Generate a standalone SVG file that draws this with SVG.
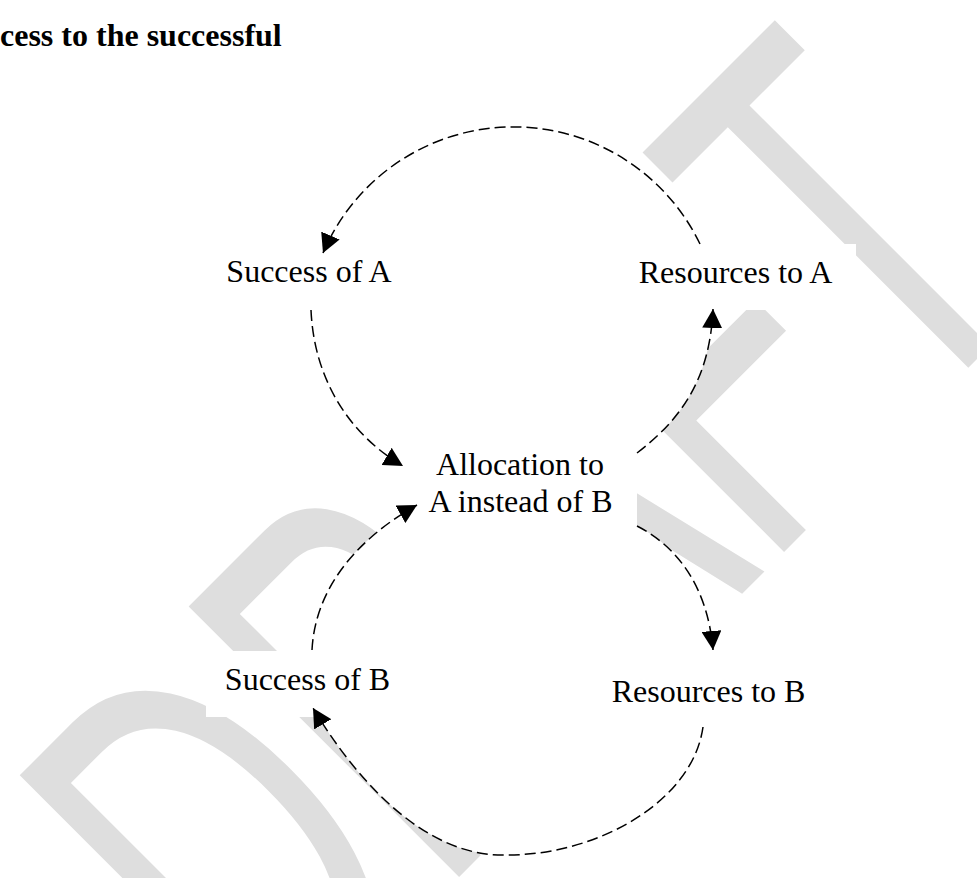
<svg xmlns="http://www.w3.org/2000/svg" width="977" height="878" viewBox="0 0 977 878">
  <style>
    .wm { font-family: "Liberation Sans", Arial, sans-serif; font-size: 556px; fill: #dedede; }
    .title { font-family: "Liberation Serif", "Times New Roman", serif; font-size: 32px; font-weight: bold; fill: #000; }
    .lbl { font-family: "Liberation Serif", "Times New Roman", serif; font-size: 32px; fill: #000; text-anchor: middle; }
    .box { fill: #fff; stroke: none; }
    .fillw { fill: #fff; stroke: none; }
    .con { fill: none; stroke: #000; stroke-width: 1.5; stroke-dasharray: 11 5; marker-end: url(#arr); }
  </style>
  <defs>
    <marker id="arr" viewBox="0 0 20 20" refX="19" refY="10" markerWidth="20" markerHeight="20" markerUnits="userSpaceOnUse" orient="auto">
      <path d="M0,0 L19,10 L0,20 z" fill="#000"/>
    </marker>
  </defs>
  <rect x="0" y="0" width="977" height="878" fill="#fff"/>
  <g id="watermark">
    <text class="wm" transform="translate(271,1065) rotate(-45) scale(0.595,1)" x="0" y="0">DRAFT</text>
  </g>
  <g id="loop-fills">
    <path class="fillw" d="M700,244 A207,207 0 0 0 323,253 L311,310 C314,380 350,435 403,466 L637,453 C680,420 710,380 713,309 Z"/>
    <path class="fillw" d="M637,526 C680,548 708,590 713,650 L703,727 C693,800 600,855 507,855 C420,858 350,770 313,708 L312,650 C315,590 355,540 417,505 Z"/>
  </g>
  <g id="title">
    <text class="title" x="0" y="46">cess to the successful</text>
  </g>
  <g id="node-success-a">
    <rect class="box" x="207" y="243" width="204" height="66"/>
    <text class="lbl" x="309" y="282">Success of A</text>
  </g>
  <g id="node-resources-a">
    <rect class="box" x="615" y="244" width="241" height="66"/>
    <text class="lbl" x="735.5" y="283">Resources to A</text>
  </g>
  <g id="node-allocation">
    <rect class="box" x="403" y="440" width="234" height="100"/>
    <text class="lbl" x="520" y="475">Allocation to</text>
    <text class="lbl" x="520.5" y="512">A instead of B</text>
  </g>
  <g id="node-success-b">
    <rect class="box" x="206" y="651" width="203" height="66"/>
    <text class="lbl" x="307.5" y="690">Success of B</text>
  </g>
  <g id="node-resources-b">
    <rect class="box" x="590" y="662" width="238" height="66"/>
    <text class="lbl" x="708.5" y="702">Resources to B</text>
  </g>
  <g id="connectors">
    <path class="con" d="M700,244 A207,207 0 0 0 323,253"/>
    <path class="con" d="M311,310 C314,380 350,435 403,466"/>
    <path class="con" d="M637,453 C680,420 710,380 713,309"/>
    <path class="con" d="M637,526 C680,548 708,590 713,650"/>
    <path class="con" d="M312,650 C315,590 355,540 417,505"/>
    <path class="con" d="M703,727 C693,800 600,855 507,855 C420,858 350,770 313,708"/>
  </g>
</svg>
